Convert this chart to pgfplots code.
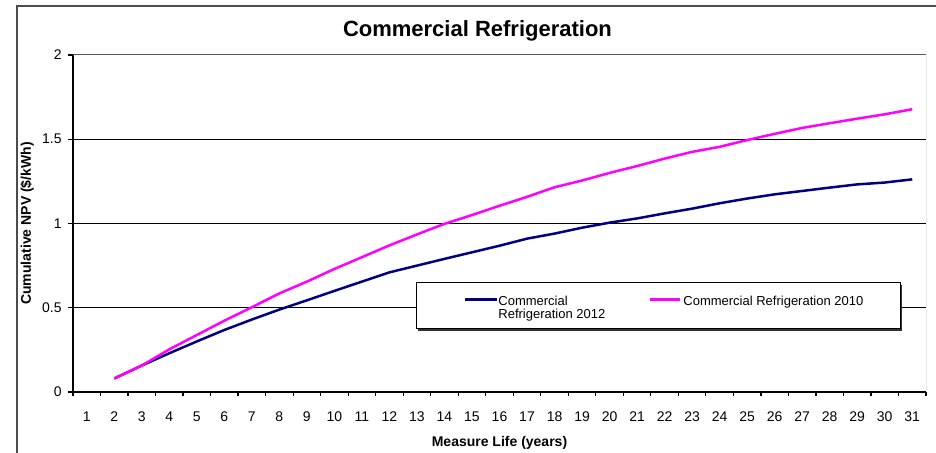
\documentclass[border=0pt]{standalone}
\usepackage{pgfplots}
\pgfplotsset{compat=1.18}
\usepackage{fontspec}
\setmainfont{Liberation Sans}
\definecolor{navyline}{HTML}{000080}
\definecolor{magline}{HTML}{FF00FF}

\pgfplotstableread{
x  y2012  y2010
2  0.080  0.080
3  0.157  0.157
4  0.230  0.253
5  0.300  0.338
6  0.368  0.423
7  0.430  0.503
8  0.489  0.585
9  0.544  0.655
10 0.600  0.730
11 0.655  0.800
12 0.710  0.870
13 0.750  0.935
14 0.790  0.998
15 0.829  1.050
16 0.868  1.105
17 0.910  1.158
18 0.940  1.215
19 0.975  1.255
20 1.005  1.300
21 1.030  1.341
22 1.060  1.385
23 1.088  1.425
24 1.120  1.455
25 1.148  1.495
26 1.173  1.532
27 1.193  1.567
28 1.213  1.595
29 1.232  1.622
30 1.243  1.648
31 1.262  1.678
}\npvdata

\begin{document}
\begin{tikzpicture}
\useasboundingbox (0,0) rectangle (468pt,226.5pt);
\clip (0,0) rectangle (468pt,226.5pt);
% chart frame
\draw[gray!60!black, line width=0.7pt] (8.5pt,-5pt) -- (8.5pt,223.5pt) -- (480pt,223.5pt);
\begin{axis}[
  at={(36.5pt,30.5pt)}, anchor=south west,
  scale only axis, width=426.5pt, height=168.5pt,
  xmin=0.5, xmax=31.5, ymin=0, ymax=2,
  xtick={1,...,31}, major x tick style={draw=none},
  minor xtick={0.5,1.5,...,31.5},
  ytick={0,0.5,1,1.5,2},
  tick align=outside, major tick length=2.5pt, minor tick length=2pt,
  tick style={black, line width=0.6pt},
  axis x line*=bottom, axis y line*=left,
  axis line style={black, line width=1pt, -},
  ymajorgrids, grid style={black, line width=0.5pt},
  /pgf/number format/assume math mode=true,
  ticklabel style={font=\fontsize{7}{8}\selectfont},
  xticklabel style={inner sep=0pt, anchor=north, yshift=-7pt},
  yticklabel style={inner sep=0pt, anchor=east, xshift=-3pt},
  title={\textbf{Commercial Refrigeration}},
  every axis title/.style={at={(axis description cs:0.4742,1.0712)}, anchor=center, font=\fontsize{11}{12}\selectfont},
  xlabel={\textbf{Measure Life (years)}},
  every axis x label/.style={at={(axis description cs:0.5,0)}, anchor=center, yshift=-25.5pt, font=\fontsize{7}{8}\selectfont},
  ylabel={\textbf{Cumulative NPV (\$/kWh)}},
  every axis y label/.style={at={(axis description cs:-0.0539,0.5)}, anchor=center, rotate=90, font=\fontsize{7}{8}\selectfont},
]
\addplot[navyline, line width=1.25pt] table[x=x, y=y2012] {\npvdata};
\addplot[magline, line width=1.25pt] table[x=x, y=y2010] {\npvdata};
\draw[gray!70!black, line width=0.5pt] (rel axis cs:0,1) -- (rel axis cs:1,1) -- (rel axis cs:1,0);
\end{axis}
% legend box (with Excel-style shadow)
\fill[white] (208pt,62pt) rectangle (450pt,85pt);
\draw[gray!40!black, line width=1pt] (209pt,61.5pt) -- (450.5pt,61.5pt) -- (450.5pt,84pt);
\draw[black, line width=0.5pt] (208pt,62pt) rectangle (450pt,85pt);
\draw[navyline, line width=1.25pt] (232.5pt,76.85pt) -- (248.5pt,76.85pt);
\draw[magline, line width=1.25pt] (325pt,76.85pt) -- (340pt,76.85pt);
\begin{scope}[every node/.style={anchor=base west, inner sep=0pt, font=\fontsize{6.5}{7}\selectfont}]
\node at (249pt,73.5pt) {Commercial};
\node at (249pt,67pt) {Refrigeration 2012};
\node at (341.5pt,73.5pt) {Commercial Refrigeration 2010};
\end{scope}
\end{tikzpicture}
\end{document}
